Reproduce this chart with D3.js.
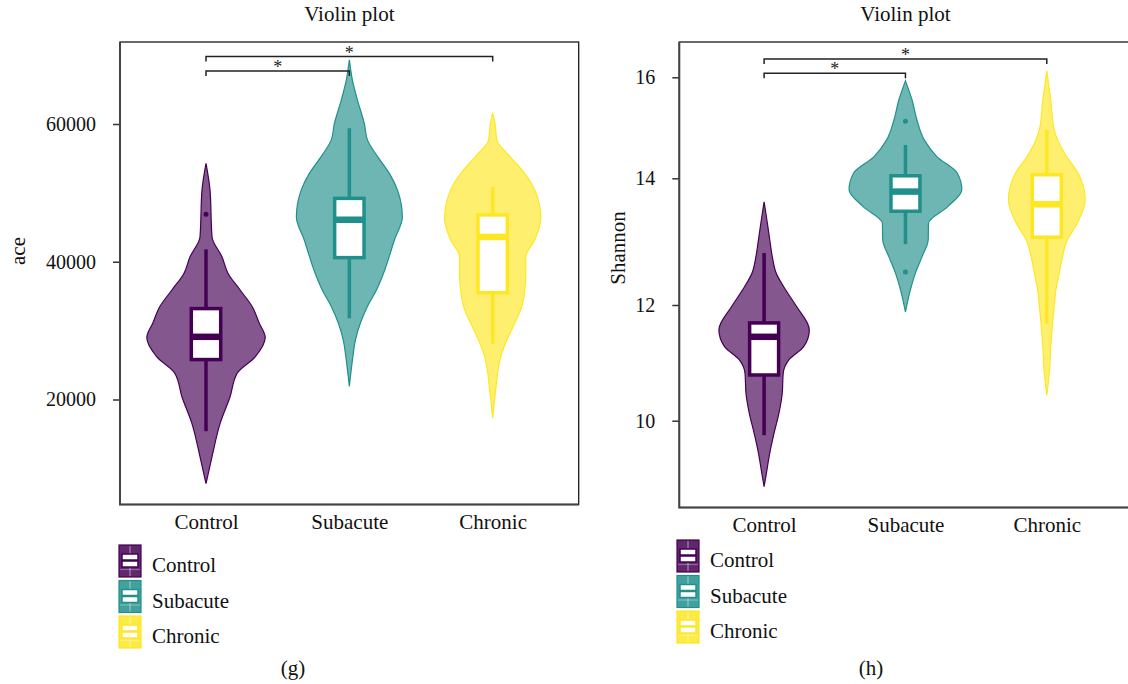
<!DOCTYPE html>
<html>
<head>
<meta charset="utf-8">
<script src="https://cdn.jsdelivr.net/npm/d3@7/dist/d3.min.js"></script>
<style>
  body { margin: 0; background: #fff; }
  svg { display: block; }
</style>
</head>
<body>
<svg width="1128" height="684"></svg>
<script>
// groups and colours (viridis ends + middle)
const groups = ["Control", "Subacute", "Chronic"];
const groupColors = ["#440154", "#21908C", "#FDE725"];

// ---- panel (g): ace ----
const aceTicks = [20000, 40000, 60000];
// violin outline: value along y, relative half-width
const aceViolinValues = [
  [54300, 50400, 43600, 40700, 38300, 35900, 33500, 31100, 29000, 26200, 23800, 20400, 16500, 11700, 7800],
  [69300, 66400, 63500, 60000, 57700, 55300, 52800, 50400, 46500, 43200, 38300, 35900, 33500, 31100, 28600, 26200, 21900],
  [61600, 59900, 57700, 55300, 52800, 50400, 46300, 43200, 40700, 38300, 35900, 33500, 31100, 28600, 26200, 21400, 17300]
];
const aceViolinDensity = [
  [0, 4, 6, 16, 22, 34, 46, 53, 59, 49, 31, 24, 14, 6, 0],
  [0, 3, 8, 15, 18, 28, 40, 48, 52.8, 45, 34, 27, 18, 11, 6, 3.5, 0],
  [0, 2.5, 4, 17, 32, 42, 48, 42, 33, 33, 32, 29, 22, 14, 8, 3, 0]
];
const aceLow = [15400, 31800, 28100];
const aceQ1 = [25800, 40600, 35500];
const aceMedian = [29100, 46100, 43600];
const aceQ3 = [33200, 49200, 46800];
const aceHigh = [41800, 59400, 50900];
const aceOutliers = [[46900], [], []];
const aceSignif = [["Control", "Subacute", 67700, "*"], ["Control", "Chronic", 69800, "*"]];

// ---- panel (h): Shannon ----
const shannonTicks = [10, 12, 14, 16];
const shannonViolinValues = [
  [13.63, 13.29, 13.03, 12.76, 12.50, 12.24, 11.97, 11.57, 11.28, 11.05, 10.82, 10.47, 10.13, 9.78, 9.44, 9.09, 8.86],
  [15.93, 15.55, 15.15, 14.76, 14.43, 14.10, 13.82, 13.55, 13.29, 13.03, 12.76, 12.50, 12.24, 11.88],
  [16.13, 15.55, 14.96, 14.76, 14.43, 14.10, 13.66, 13.29, 13.03, 12.76, 12.50, 12.24, 11.97, 11.68, 11.28, 10.82, 10.44]
];
const shannonViolinDensity = [
  [0, 3.3, 5.7, 8.3, 12.3, 21.7, 33, 45.7, 40, 25, 19.3, 18.3, 15, 10, 5.7, 2.3, 0],
  [0, 6.7, 11.7, 19, 31.7, 52.5, 57, 42.5, 23.3, 23, 16.7, 10, 5, 0],
  [0, 4, 7.5, 11, 20, 31.7, 38.8, 30.8, 20.8, 15.8, 12.5, 9.2, 7.5, 5.8, 4, 2.5, 0]
];
const shannonLow = [9.75, 12.96, 11.68];
const shannonQ1 = [10.79, 13.48, 13.07];
const shannonMedian = [11.45, 13.79, 13.59];
const shannonQ3 = [11.69, 14.05, 14.07];
const shannonHigh = [12.82, 14.66, 14.96];
const shannonOutliers = [[], [15.13, 12.52], []];
const shannonSignif = [["Control", "Subacute", 16.08, "*"], ["Control", "Chronic", 16.36, "*"]];

const serif = "'Liberation Serif', 'DejaVu Serif', serif";
const svg = d3.select("svg");

function drawPanel(p) {
  const g = svg.append("g");

  const x = d3.scalePoint().domain(groups).range([p.left, p.right]).padding(0.6);
  const y = p.y;
  const halfW = d3.scaleLinear().domain([0, 60]).range([0, x.step() * 0.42]);
  const boxW = x.step() * 0.205;

  // title
  g.append("text")
    .attr("x", (p.left + p.right) / 2)
    .attr("y", 21)
    .attr("text-anchor", "middle")
    .attr("font-family", serif)
    .attr("font-size", 21)
    .attr("fill", "#111")
    .text("Violin plot");

  // frame
  g.append("rect")
    .attr("x", p.left).attr("y", p.top)
    .attr("width", p.right - p.left).attr("height", p.bottom - p.top)
    .attr("fill", "none").attr("stroke", "#1a1a1a").attr("stroke-width", 1.3);

  groups.forEach((grp, i) => {
    const cx = x(grp);
    const col = groupColors[i];
    const pts = p.violinValues[i].map((v, j) => ({ v: v, d: p.violinDensity[i][j] }));

    const area = d3.area()
      .curve(d3.curveMonotoneY)
      .y(d => y(d.v))
      .x0(d => cx - halfW(d.d))
      .x1(d => cx + halfW(d.d));

    g.append("path")
      .attr("d", area(pts))
      .attr("fill", col)
      .attr("fill-opacity", 0.66)
      .attr("stroke", col)
      .attr("stroke-width", 1.2);

    // whisker
    g.append("line")
      .attr("x1", cx).attr("x2", cx)
      .attr("y1", y(p.high[i])).attr("y2", y(p.low[i]))
      .attr("stroke", col).attr("stroke-width", 3.5);

    // box
    g.append("rect")
      .attr("x", cx - boxW / 2).attr("y", y(p.q3[i]))
      .attr("width", boxW).attr("height", y(p.q1[i]) - y(p.q3[i]))
      .attr("fill", "#fff").attr("stroke", col).attr("stroke-width", 3.5);

    // median
    g.append("line")
      .attr("x1", cx - boxW / 2).attr("x2", cx + boxW / 2)
      .attr("y1", y(p.median[i])).attr("y2", y(p.median[i]))
      .attr("stroke", col).attr("stroke-width", 6.5);

    // outliers
    g.selectAll(null)
      .data(p.outliers[i])
      .enter()
      .append("circle")
      .attr("cx", cx).attr("cy", d => y(d)).attr("r", 2.5)
      .attr("fill", col);
  });

  // significance brackets
  p.signif.forEach(s => {
    const x1 = x(s[0]), x2 = x(s[1]), yy = y(s[2]);
    g.append("path")
      .attr("d", `M${x1},${yy + 5}V${yy}H${x2}V${yy + 5}`)
      .attr("fill", "none").attr("stroke", "#222").attr("stroke-width", 1.5);
    g.append("text")
      .attr("x", (x1 + x2) / 2).attr("y", yy + 2)
      .attr("text-anchor", "middle")
      .attr("font-family", serif).attr("font-size", 18).attr("fill", "#222")
      .text(s[3]);
  });

  // y axis
  g.append("g")
    .attr("transform", `translate(${p.left},0)`)
    .call(d3.axisLeft(y).tickValues(p.ticks).tickSize(7).tickPadding(17).tickFormat(d3.format("d")))
    .call(a => a.select(".domain").remove())
    .attr("font-family", serif).attr("font-size", 20)
    .call(a => a.selectAll(".tick line").attr("stroke", "#333").attr("stroke-width", 1.5))
    .call(a => a.selectAll("text").attr("fill", "#111"));

  // x axis
  g.append("g")
    .attr("transform", `translate(0,${p.bottom})`)
    .call(d3.axisBottom(x).tickSize(0).tickPadding(10))
    .call(a => a.select(".domain").remove())
    .attr("font-family", serif).attr("font-size", 21)
    .call(a => a.selectAll("text").attr("fill", "#111"));

  // thicker axis lines on left and bottom
  g.append("path")
    .attr("d", `M${p.left},${p.top}V${p.bottom}H${p.right}`)
    .attr("fill", "none").attr("stroke", "#444").attr("stroke-width", 2);

  // y label
  g.append("text")
    .attr("transform", `translate(${p.yLabelX},${p.yLabelY}) rotate(-90)`)
    .attr("text-anchor", "middle")
    .attr("font-family", serif).attr("font-size", 21).attr("fill", "#111")
    .text(p.yLabel);

  // legend
  groups.forEach((grp, i) => {
    const lx = p.legendX, ly = p.legendY + i * 35.5;
    const col = groupColors[i];
    const key = g.append("g").attr("transform", `translate(${lx},${ly})`);
    key.append("rect")
      .attr("width", 22).attr("height", 32)
      .attr("fill", col).attr("fill-opacity", 0.85)
      .attr("stroke", col).attr("stroke-width", 1.2);
    key.append("line")
      .attr("x1", 11).attr("x2", 11).attr("y1", 1).attr("y2", 31)
      .attr("stroke", "#fff").attr("stroke-opacity", 0.35).attr("stroke-width", 1.5);
    key.append("line")
      .attr("x1", 1).attr("x2", 21).attr("y1", 24.5).attr("y2", 24.5)
      .attr("stroke", "#fff").attr("stroke-opacity", 0.3).attr("stroke-width", 1.2);
    key.append("rect")
      .attr("x", 3).attr("y", 9).attr("width", 16).attr("height", 13)
      .attr("fill", "#fff").attr("stroke", col).attr("stroke-width", 1.5);
    key.append("line")
      .attr("x1", 3).attr("x2", 19).attr("y1", 15.5).attr("y2", 15.5)
      .attr("stroke", col).attr("stroke-width", 2.5);
    g.append("text")
      .attr("x", lx + 33).attr("y", ly + 27)
      .attr("font-family", serif).attr("font-size", 21).attr("fill", "#111")
      .text(grp);
  });

  // caption
  g.append("text")
    .attr("x", p.captionX).attr("y", 675)
    .attr("text-anchor", "middle")
    .attr("font-family", serif).attr("font-size", 21).attr("fill", "#111")
    .text(p.caption);
}

drawPanel({
  left: 120, right: 578.7, top: 42, bottom: 504.5,
  y: d3.scaleLinear().domain([20000, 60000]).range([399.5, 124]),
  ticks: aceTicks,
  violinValues: aceViolinValues, violinDensity: aceViolinDensity,
  low: aceLow, q1: aceQ1, median: aceMedian, q3: aceQ3, high: aceHigh,
  outliers: aceOutliers, signif: aceSignif,
  yLabel: "ace", yLabelX: 25, yLabelY: 251,
  legendX: 119, legendY: 545,
  caption: "(g)", captionX: 293
});

// the printed tick marks of panel (h) are not evenly spaced, so map piecewise
drawPanel({
  left: 679.3, right: 1131.6, top: 42, bottom: 507.5,
  y: d3.scaleLinear().domain(shannonTicks).range([420.7, 305, 178.3, 77.3]),
  ticks: shannonTicks,
  violinValues: shannonViolinValues, violinDensity: shannonViolinDensity,
  low: shannonLow, q1: shannonQ1, median: shannonMedian, q3: shannonQ3, high: shannonHigh,
  outliers: shannonOutliers, signif: shannonSignif,
  yLabel: "Shannon", yLabelX: 625, yLabelY: 248,
  legendX: 677, legendY: 540,
  caption: "(h)", captionX: 871
});
</script>
</body>
</html>
